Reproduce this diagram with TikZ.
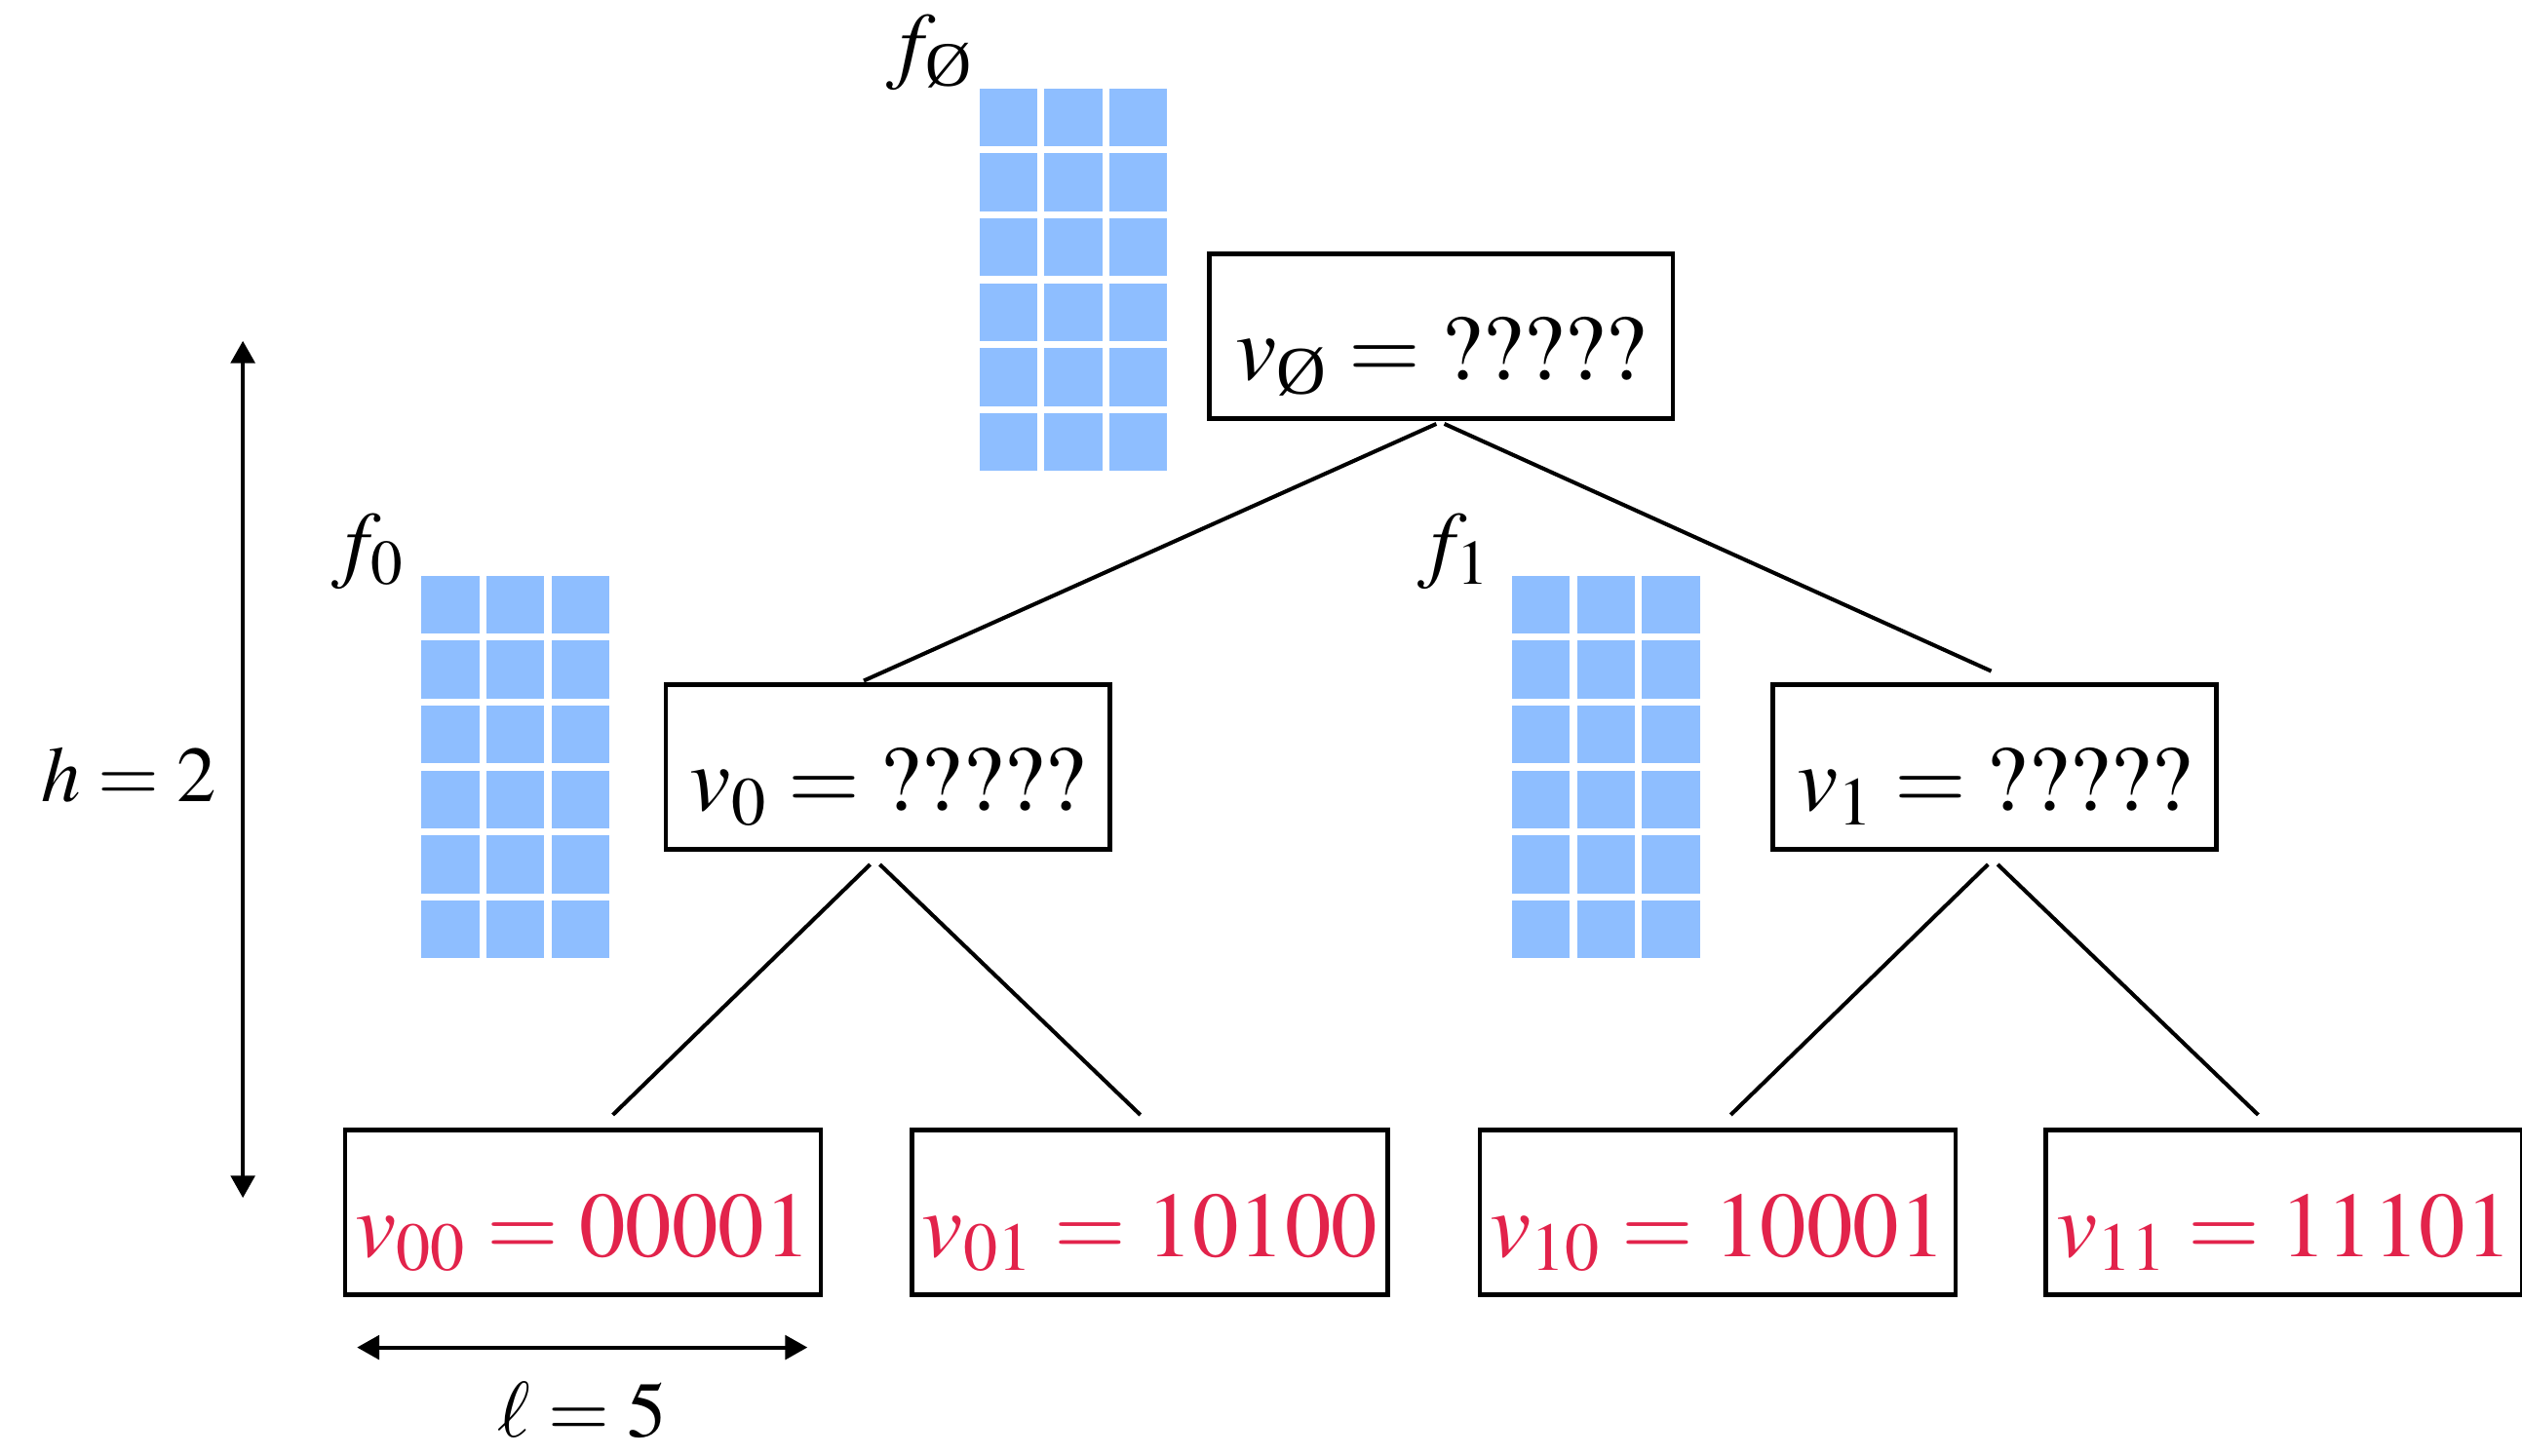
\documentclass[tikz,border=0pt]{standalone}
\usepackage{amsmath}
\usepackage{mathptmx}
\usepackage{fontspec}
\setmainfont{Liberation Serif}
\usetikzlibrary{arrows.meta}
\definecolor{cellB}{RGB}{142,190,255}
\definecolor{leafR}{RGB}{226,35,75}
\newcommand{\noset}{\text{\O}}

\begin{document}
\begin{tikzpicture}[x=0.0165cm,y=-0.0165cm,>={Triangle[length=6.5pt,width=7pt]},
  qbox/.style={draw,line width=1.3pt,inner xsep=0pt,inner ysep=0pt,
    text height=1.2cm,text depth=0.3cm,minimum height=1.69cm,
    font=\fontsize{27}{30}\selectfont},
  leafbox/.style={qbox,minimum width=4.88cm,text=leafR},
  flab/.style={font=\fontsize{25}{28}\selectfont},
  dimlab/.style={inner sep=1pt,font=\fontsize{23}{26}\selectfont},
  edge/.style={line width=1.15pt}]
\useasboundingbox (0,0) rectangle (1568,905);
% weight blocks
\foreach \gx/\gy in {609/55,262/358,940/358}
  \foreach \i in {0,1,2}
    \foreach \j in {0,...,5}
      \fill[cellB] ({\gx+40.4*\i},{\gy+40.4*\j}) rectangle ++(36,36);
\node[flab] (fe) at (578,33) {$f_\noset$};
\node[flab] (fa) at (229,343) {$f_0$};
\node[flab] (fb) at (904,343) {$f_1$};
% tree
\node[qbox,minimum width=4.75cm] (root) at (896,209) {$v_\noset = \mathrm{?????}$};
\node[qbox,minimum width=4.55cm] (va) at (552,477) {$v_0 = \mathrm{?????}$};
\node[qbox,minimum width=4.55cm] (vb) at (1240,477) {$v_1 = \mathrm{?????}$};
\node[leafbox] (vaa) at (362.5,754) {$v_{00} = 00001$};
\node[leafbox] (vab) at (715,754) {$v_{01} = 10100$};
\node[leafbox] (vba) at (1068,754) {$v_{10} = 10001$};
\node[leafbox] (vbb) at (1420,754) {$v_{11} = 11101$};
\draw[edge] ([shift={(-3,2)}]root.south) -- ([shift={(-15,-1)}]va.north);
\draw[edge] ([shift={(2,2)}]root.south) -- ([shift={(-2,-7)}]vb.north);
\draw[edge] ([shift={(-11,8)}]va.south) -- ([shift={(18.5,-8)}]vaa.north);
\draw[edge] ([shift={(-5,8)}]va.south) -- ([shift={(-6,-8)}]vab.north);
\draw[edge] ([shift={(-4,8)}]vb.south) -- ([shift={(8,-8)}]vba.north);
\draw[edge] ([shift={(2,8)}]vb.south) -- ([shift={(-16,-8)}]vbb.north);
% dimensions
\coordinate (htop) at (151,212);
\coordinate (hbot) at (151,745);
\coordinate (lleft) at (222,838);
\coordinate (lright) at (502,838);
\draw[<->,line width=1.1pt] (htop) -- (hbot);
\draw[<->,line width=1.1pt] (lleft) -- (lright);
\node[dimlab] (hlab) at (80,482) {$h = 2$};
\node[dimlab] (llab) at (362,877) {$\ell = 5$};
\end{tikzpicture}
\end{document}
